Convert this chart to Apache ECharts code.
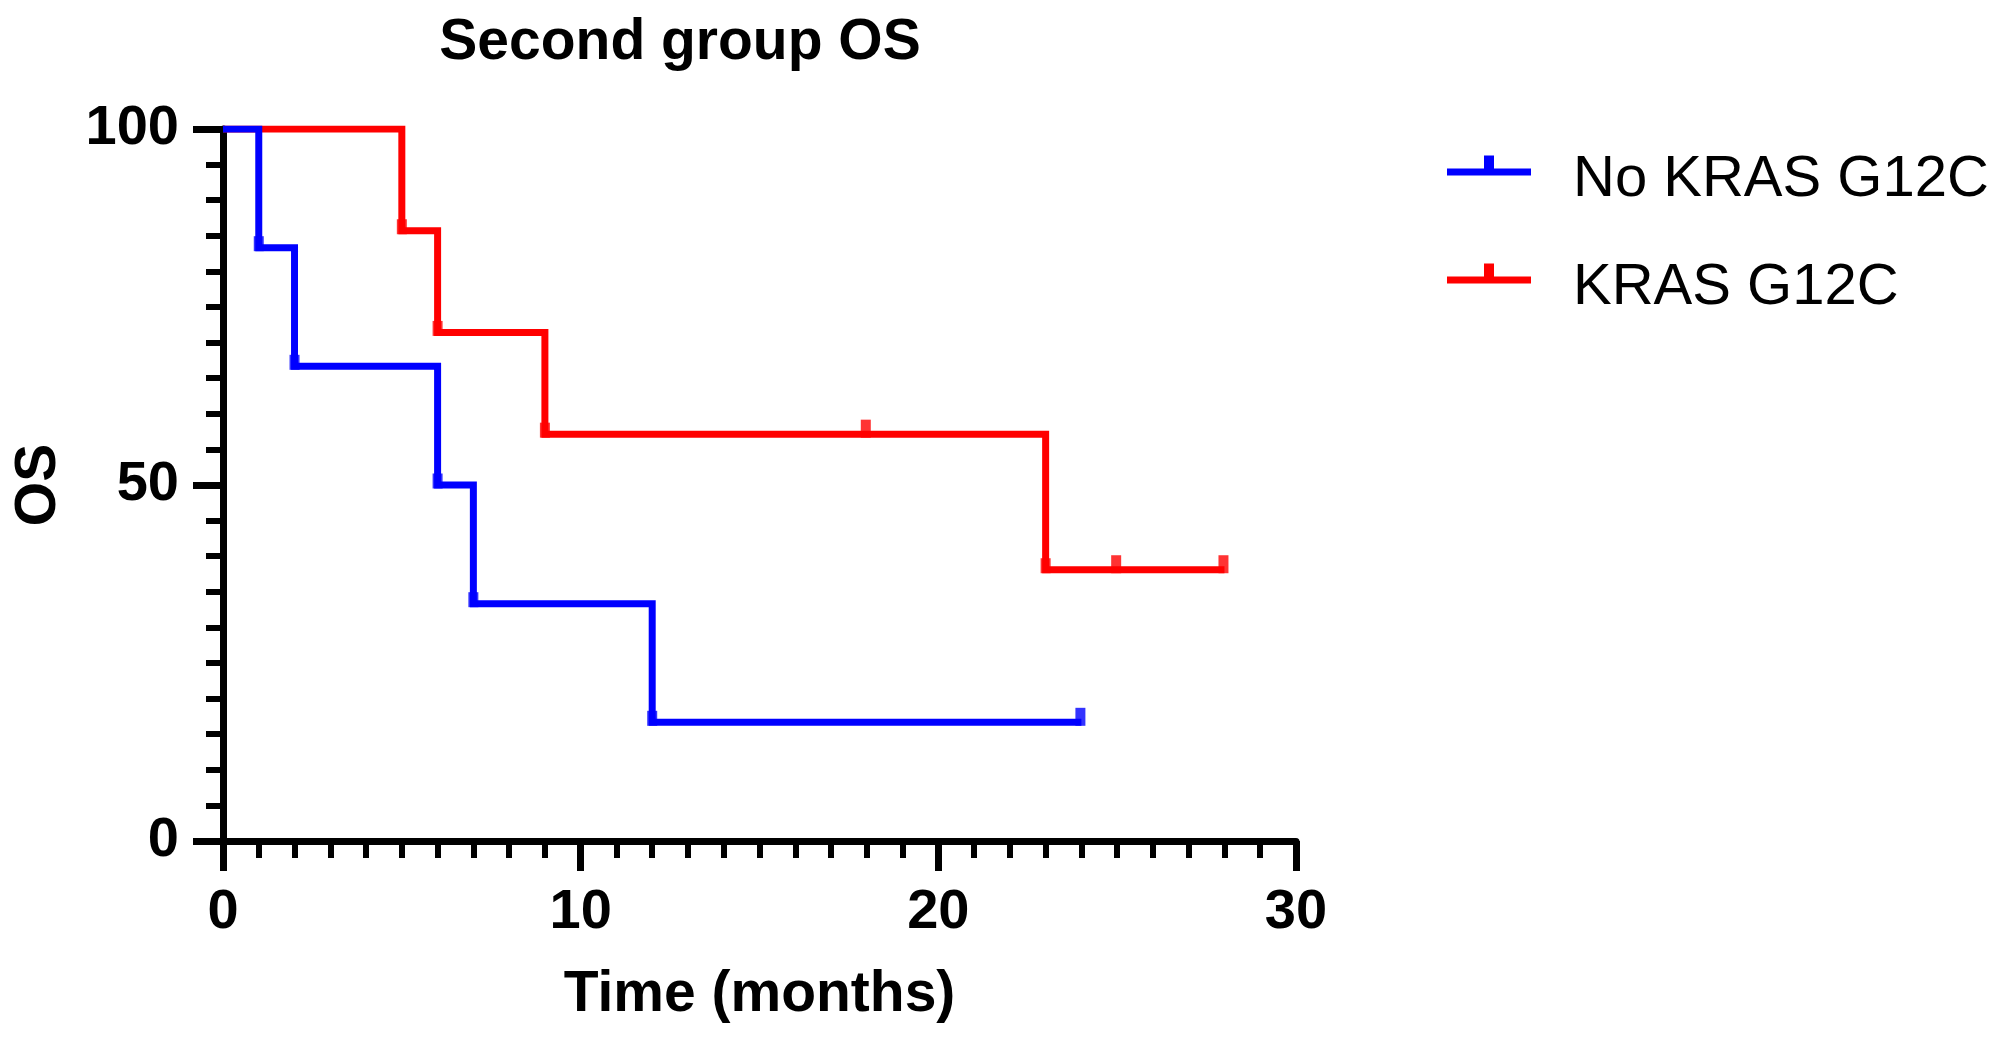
<!DOCTYPE html>
<html>
<head>
<meta charset="utf-8">
<script src="https://cdn.jsdelivr.net/npm/echarts@6/dist/echarts.min.js"></script>
<style>
html,body{margin:0;padding:0;background:#fff;}
#c{width:2000px;height:1045px;}
</style>
</head>
<body>
<div id="c"></div>
<script>
// ---- data ----
const titleText = 'Second group OS';
const xName = 'Time (months)';
const yName = 'OS';
const seriesNames = ['No KRAS G12C', 'KRAS G12C'];
const seriesColors = ['#0000ff', '#ff0000'];

// Kaplan-Meier step points (time, survival %)
const noKrasTimes = [0, 1, 2, 6, 7, 12, 24];
const noKrasSurv  = [100, 83.33, 66.67, 50, 33.33, 16.67, 16.67];
const noKrasEventTimes = [1, 2, 6, 7, 12];
const noKrasEventSurv  = [83.33, 66.67, 50, 33.33, 16.67];
const noKrasCensorTimes = [24];
const noKrasCensorSurv  = [16.67];

const krasTimes = [0, 5, 6, 9, 23, 28];
const krasSurv  = [100, 85.71, 71.43, 57.14, 38.1, 38.1];
const krasEventTimes = [5, 6, 9, 23];
const krasEventSurv  = [85.71, 71.43, 57.14, 38.1];
const krasCensorTimes = [18, 25, 28];
const krasCensorSurv  = [57.14, 38.1, 38.1];

const xTicks = [0, 10, 20, 30];
const yTicks = [0, 50, 100];

// ---- build ----
const zip = (a, b) => a.map((v, i) => [v, b[i]]);
const FONT = '"Liberation Sans", Arial, Helvetica, sans-serif';
// line with a censor tick; a degenerate sub-path below widens the box so the line sits above centre
const legendIcon = 'path://M0,13 L37,13 L37,0 L47,0 L47,13 L84,13 L84,20 L0,20 Z M0,49 L0.01,49 L0,49 Z';

function groupSeries(name, color, times, surv, evT, evS, cT, cS, z) {
  return [
    {
      name: name, type: 'line', step: 'end', z: z,
      data: zip(times, surv), showSymbol: false, symbol: 'none',
      lineStyle: { color: color, width: 7, cap: 'butt', join: 'miter' },
      itemStyle: { color: color },
      animation: false, silent: true
    },
    {
      name: name, type: 'scatter', z: z + 1,
      data: zip(evT, evS), symbol: 'rect', symbolSize: [10, 15],
      symbolOffset: [0, -4],
      itemStyle: { color: color }, animation: false, silent: true
    },
    {
      name: name, type: 'scatter', z: z + 1,
      data: zip(cT, cS), symbol: 'rect', symbolSize: [10, 18],
      symbolOffset: [-1, -5.5],
      itemStyle: { color: color }, animation: false, silent: true
    }
  ];
}

const chart = echarts.init(document.getElementById('c'), null, { renderer: 'canvas' });
const axisCommon = {
  type: 'value',
  nameLocation: 'middle',
  nameTextStyle: { fontFamily: FONT, fontWeight: 'bold', fontSize: 57, color: '#000' },
  axisLine: { show: true, lineStyle: { color: '#000', width: 7 } },
  axisTick: { show: true, length: 30, lineStyle: { color: '#000', width: 7 } },
  minorTick: { show: true, splitNumber: 10, length: 17, lineStyle: { color: '#000', width: 6 } },
  splitLine: { show: false },
  minorSplitLine: { show: false },
  axisLabel: { fontFamily: FONT, fontWeight: 'bold', fontSize: 56, color: '#000', margin: 44 }
};

chart.setOption({
  backgroundColor: '#fff',
  animation: false,
  title: {
    text: titleText, left: 680, top: 15, textAlign: 'center', padding: 0,
    textStyle: { fontFamily: FONT, fontWeight: 'bold', fontSize: 57, color: '#000' }
  },
  legend: {
    orient: 'vertical', left: 1442, top: 145,
    itemWidth: 84, itemHeight: 49, itemGap: 48,
    selectedMode: false,
    data: seriesNames.map((n, i) => ({ name: n, icon: legendIcon, itemStyle: { color: seriesColors[i], borderWidth: 0 } })),
    textStyle: { fontFamily: FONT, fontSize: 58, color: '#000', lineHeight: 60, padding: [0, 0, 0, 37] }
  },
  grid: { left: 223, right: 704, top: 129, bottom: 204, containLabel: false },
  xAxis: Object.assign({}, axisCommon, {
    name: xName, nameGap: 126,
    min: xTicks[0], max: xTicks[xTicks.length - 1], interval: xTicks[1] - xTicks[0]
  }),
  yAxis: Object.assign({}, axisCommon, {
    name: yName, nameGap: 155, nameRotate: 90,
    min: yTicks[0], max: yTicks[yTicks.length - 1], interval: yTicks[1] - yTicks[0]
  }),
  series: [].concat(
    groupSeries(seriesNames[1], seriesColors[1], krasTimes, krasSurv, krasEventTimes, krasEventSurv, krasCensorTimes, krasCensorSurv, 2),
    groupSeries(seriesNames[0], seriesColors[0], noKrasTimes, noKrasSurv, noKrasEventTimes, noKrasEventSurv, noKrasCensorTimes, noKrasCensorSurv, 5)
  )
});
</script>
</body>
</html>
